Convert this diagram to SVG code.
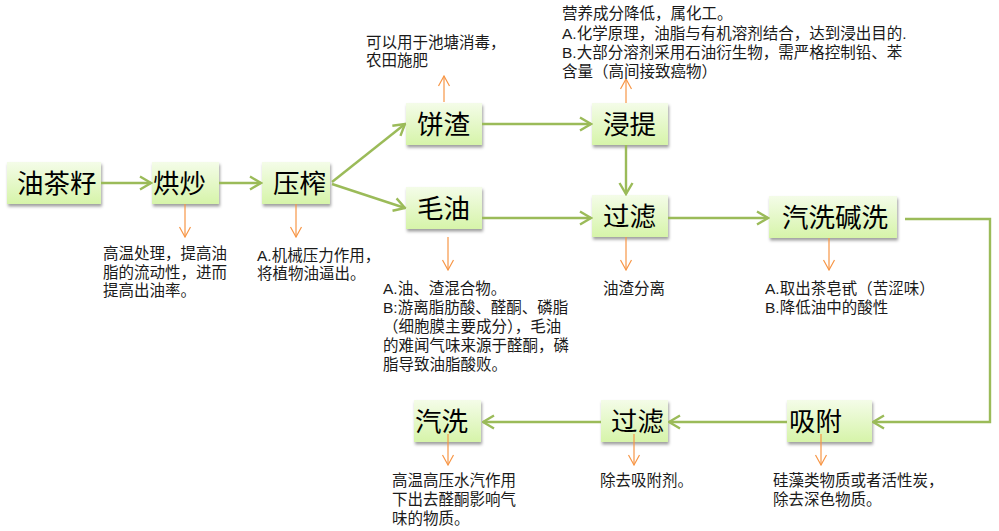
<svg xmlns="http://www.w3.org/2000/svg" width="999" height="531" viewBox="0 0 999 531">
<defs>
<linearGradient id="g" x1="0" y1="0" x2="0" y2="1">
<stop offset="0" stop-color="#f4fce8"/>
<stop offset="1" stop-color="#d6f4a9"/>
</linearGradient>
<filter id="sh" x="-20%" y="-20%" width="140%" height="150%">
<feDropShadow dx="1" dy="2.5" stdDeviation="1.6" flood-color="#000" flood-opacity="0.38"/>
</filter>
<marker id="ag" viewBox="0 0 14 16" refX="12.5" refY="8" markerWidth="14" markerHeight="16" markerUnits="userSpaceOnUse" orient="auto">
<path d="M1.5,1.5 L12.5,8 L1.5,14.5" fill="none" stroke="#9bbb59" stroke-width="2.4"/>
</marker>
<marker id="ao" viewBox="0 0 12 14" refX="11" refY="7" markerWidth="12" markerHeight="14" markerUnits="userSpaceOnUse" orient="auto">
<path d="M1,1.5 L11,7 L1,12.5" fill="none" stroke="#f79646" stroke-width="1.2"/>
</marker>
</defs>
<style>
.box{fill:url(#g);filter:url(#sh);}
.nt{font-family:"Microsoft YaHei","Noto Sans CJK SC","Noto Sans",sans-serif;font-size:26.5px;fill:#000;}
.note{font-family:"Liberation Sans","Noto Sans CJK SC",sans-serif;font-size:15.5px;fill:#1a1a1a;}
.gl{fill:none;stroke:#9bbb59;stroke-width:2.4;marker-end:url(#ag);}
.ol{fill:none;stroke:#f79646;stroke-width:1.2;marker-end:url(#ao);}
</style>
<rect width="999" height="531" fill="#fff"/>

<g id="node-youchazi"><rect class="box" x="7" y="162" width="94" height="42"/><text class="nt" x="17" y="192.5">油茶籽</text></g>
<g id="node-hongchao"><rect class="box" x="152" y="162" width="67" height="42"/><text class="nt" x="153" y="192.5">烘炒</text></g>
<g id="node-yazha"><rect class="box" x="262" y="162" width="68" height="42"/><text class="nt" x="273" y="192.5">压榨</text></g>
<g id="node-bingzha"><rect class="box" x="406" y="103" width="76" height="42"/><text class="nt" x="417" y="133.5">饼渣</text></g>
<g id="node-jinti"><rect class="box" x="592" y="103" width="76" height="42"/><text class="nt" x="603" y="133.5">浸提</text></g>
<g id="node-maoyou"><rect class="box" x="406" y="187" width="76" height="42"/><text class="nt" x="417" y="217.5">毛油</text></g>
<g id="node-guolv1"><rect class="box" x="592" y="195" width="76" height="42"/><text class="nt" x="603" y="225.5">过滤</text></g>
<g id="node-qixijianxi"><rect class="box" x="769" y="196" width="128" height="42"/><text class="nt" x="782" y="226.5">汽洗碱洗</text></g>
<g id="node-xifu"><rect class="box" x="787" y="400" width="85" height="42"/><text class="nt" x="789" y="430.5">吸附</text></g>
<g id="node-guolv2"><rect class="box" x="601" y="400" width="67" height="42"/><text class="nt" x="611" y="430.5">过滤</text></g>
<g id="node-qixi"><rect class="box" x="414" y="400" width="67" height="42"/><text class="nt" x="415" y="430.5">汽洗</text></g>

<g id="connectors">
<line class="gl" x1="101" y1="183" x2="151" y2="183"/>
<line class="gl" x1="219" y1="183" x2="261" y2="183"/>
<line class="gl" x1="332" y1="182" x2="405" y2="124"/>
<line class="gl" x1="332" y1="184" x2="405" y2="208"/>
<line class="gl" x1="482" y1="124" x2="591" y2="124"/>
<line class="gl" x1="626" y1="145" x2="626" y2="194"/>
<line class="gl" x1="482" y1="218" x2="591" y2="218"/>
<line class="gl" x1="668" y1="218" x2="768" y2="218"/>
<polyline class="gl" points="905,219 990,219 990,422 873,422"/>
<line class="gl" x1="787" y1="422" x2="669" y2="422"/>
<line class="gl" x1="601" y1="422" x2="483" y2="422"/>

<line class="ol" x1="185" y1="204" x2="185" y2="237"/>
<line class="ol" x1="296" y1="204" x2="296" y2="237"/>
<line class="ol" x1="444" y1="102" x2="444" y2="76"/>
<line class="ol" x1="626" y1="103" x2="626" y2="79"/>
<line class="ol" x1="448" y1="237" x2="448" y2="270"/>
<line class="ol" x1="626" y1="237" x2="626" y2="270"/>
<line class="ol" x1="829" y1="238" x2="829" y2="270"/>
<line class="ol" x1="821" y1="434" x2="821" y2="465"/>
<line class="ol" x1="634" y1="434" x2="634" y2="465"/>
<line class="ol" x1="448" y1="434" x2="448" y2="465"/>
</g>

<g id="notes">
<text class="note"><tspan x="103" y="259">高温处理，提高油</tspan><tspan x="103" y="278">脂的流动性，进而</tspan><tspan x="103" y="296">提高出油率。</tspan></text>

<text class="note"><tspan x="257" y="261">A.机械压力作用，</tspan><tspan x="257" y="279">将植物油逼出。</tspan></text>

<text class="note"><tspan x="366" y="48">可以用于池塘消毒，</tspan><tspan x="366" y="66">农田施肥</tspan></text>

<text class="note"><tspan x="562" y="19">营养成分降低，属化工。</tspan><tspan x="562" y="39">A.化学原理，油脂与有机溶剂结合，达到浸出目的.</tspan><tspan x="562" y="58">B.大部分溶剂采用石油衍生物，需严格控制铅、苯</tspan><tspan x="562" y="77">含量（高间接致癌物）</tspan></text>

<text class="note"><tspan x="383" y="294">A.油、渣混合物。</tspan><tspan x="383" y="313">B:游离脂肪酸、醛酮、磷脂</tspan><tspan x="383" y="332">（细胞膜主要成分），毛油</tspan><tspan x="383" y="351">的难闻气味来源于醛酮，磷</tspan><tspan x="383" y="370">脂导致油脂酸败。</tspan></text>

<text class="note" x="603" y="294">油渣分离</text>

<text class="note"><tspan x="765" y="294">A.取出茶皂甙（苦涩味）</tspan><tspan x="765" y="313">B.降低油中的酸性</tspan></text>

<text class="note"><tspan x="773" y="486">硅藻类物质或者活性炭，</tspan><tspan x="773" y="505">除去深色物质。</tspan></text>

<text class="note" x="600" y="486">除去吸附剂。</text>

<text class="note"><tspan x="392" y="486">高温高压水汽作用</tspan><tspan x="392" y="505">下出去醛酮影响气</tspan><tspan x="392" y="524">味的物质。</tspan></text>
</g>
</svg>
